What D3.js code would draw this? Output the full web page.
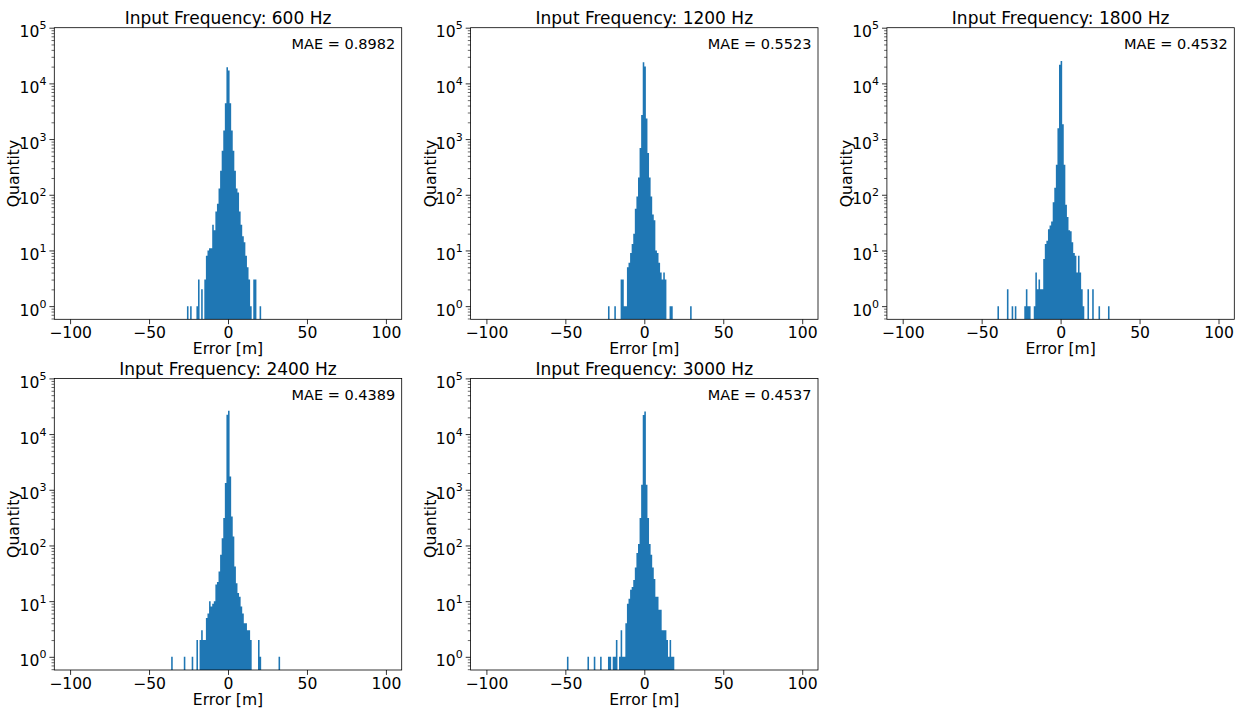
<!DOCTYPE html>
<html>
<head>
<meta charset="utf-8">
<script src="https://cdn.jsdelivr.net/npm/d3@7"></script>
<style>
  body { margin: 0; background: #fff; }
  svg { display: block; }
  text { font-family: "DejaVu Sans", sans-serif; fill: #000; }
</style>
</head>
<body>
<svg id="chart" width="1242" height="711"></svg>
<script>
// Error histograms (1 m bins) for each input frequency
const frequencies = [600, 1200, 1800, 2400, 3000];
const maeValues = ["0.8982", "0.5523", "0.4532", "0.4389", "0.4537"];

// bin left edge [m] and count per bin
const bins600 = [-26, -24, -20, -19, -17, -15, -14, -13, -12, -11, -10, -9, -8, -7, -6, -5, -4, -3, -2, -1, 0, 1, 2, 3, 4, 5, 6, 7, 8, 9, 10, 11, 12, 13, 14, 16, 17, 20];
const counts600 = [1, 1, 1, 3, 2, 3, 8, 10, 11, 11, 29, 23, 50, 69, 130, 270, 620, 1420, 4400, 19500, 17000, 4400, 1420, 620, 270, 130, 110, 50, 29, 18, 14, 8, 5, 3, 1, 3, 3, 1];

const bins1200 = [-23, -19, -15, -14, -13, -12, -11, -10, -9, -8, -7, -6, -5, -4, -3, -2, -1, 0, 1, 2, 3, 4, 5, 6, 7, 8, 9, 10, 11, 12, 13, 16, 17, 29];
const counts1200 = [1, 1, 3, 3, 1, 1, 5, 6, 9, 13, 20, 56, 93, 205, 690, 2700, 24000, 20000, 2350, 560, 205, 93, 44, 35, 10, 9, 6, 4, 3, 4, 3, 1, 1, 1];

const bins1800 = [-40, -34, -31, -29, -23, -22, -21, -20, -17, -16, -15, -14, -13, -12, -11, -10, -9, -8, -7, -6, -5, -4, -3, -2, -1, 0, 1, 2, 3, 4, 5, 6, 7, 8, 9, 10, 11, 12, 13, 14, 17, 20, 24, 30];
const counts1800 = [1, 2, 1, 1, 1, 2, 1, 1, 1, 4, 2, 3, 2, 2, 7, 13, 15, 24, 28, 33, 73, 134, 345, 1560, 21600, 25300, 1850, 345, 66, 40, 23, 22, 14, 9, 8, 4, 8, 4, 2, 1, 2, 2, 1, 1];

const bins2400 = [-36, -28, -23, -20, -18, -17, -16, -15, -14, -13, -12, -11, -10, -9, -8, -7, -6, -5, -4, -3, -2, -1, 0, 1, 2, 3, 4, 5, 6, 7, 8, 9, 10, 11, 12, 13, 14, 19, 20, 32];
const counts2400 = [1, 1, 1, 2, 2, 3, 2, 2, 5, 6, 10, 8, 9, 10, 20, 22, 34, 68, 135, 310, 1320, 22300, 26300, 1740, 330, 145, 42, 21, 14, 12, 8, 6, 4, 4, 3, 3, 2, 2, 1, 1];

const bins3000 = [-49, -36, -32, -28, -23, -22, -20, -19, -18, -16, -15, -14, -13, -12, -11, -10, -9, -8, -7, -6, -5, -4, -3, -2, -1, 0, 1, 2, 3, 4, 5, 6, 7, 8, 9, 10, 11, 12, 13, 14, 15, 16, 17, 18];
const counts3000 = [1, 1, 1, 1, 1, 1, 1, 1, 2, 1, 3, 1, 1, 4, 9, 11, 16, 18, 24, 40, 73, 106, 310, 1230, 22000, 25500, 1230, 310, 106, 68, 40, 25, 12, 12, 7, 7, 3, 3, 3, 2, 1, 2, 1, 1];

const binsList = [bins600, bins1200, bins1800, bins2400, bins3000];
const countsList = [counts600, counts1200, counts1800, counts2400, counts3000];

const xTicks = [-100, -50, 0, 50, 100];
const yTicks = [1, 10, 100, 1000, 10000, 100000];
const xDomain = [-110, 110];
const yDomain = [0.58, 100000];
const binWidth = 1;

const barColor = "#1f77b4";
const svg = d3.select("#chart");

const panelW = 347.4, panelH = 291.6;
const colX = [54.3, 470.6, 886.9];
const rowY = [27.7, 378.4];

const tickFont = 15.6, labelFont = 15.6, titleFont = 17, noteFont = 14.5;

const minorTicks = [];
for (let e = -1; e < 5; e++) {
  for (let m = 2; m <= 9; m++) {
    const v = m * Math.pow(10, e);
    if (v >= yDomain[0] && v <= yDomain[1]) minorTicks.push(v);
  }
}

frequencies.forEach((freq, i) => {
  const left = colX[i % 3];
  const top = rowY[Math.floor(i / 3)];
  const g = svg.append("g").attr("transform", `translate(${left},${top})`);

  const x = d3.scaleLinear().domain(xDomain).range([0, panelW]);
  const y = d3.scaleLog().domain(yDomain).range([panelH, 0]).clamp(true);

  // all bars of a panel go into one path so adjacent bins join without seams
  const p = d3.path();
  binsList[i].forEach((b, j) => {
    const x0 = x(b), x1 = x(b + binWidth), y0 = y(countsList[i][j]);
    p.rect(x0, y0, x1 - x0, panelH - y0);
  });
  g.append("path").attr("d", p.toString()).attr("fill", barColor);

  // x axis
  const xa = g.append("g").attr("transform", `translate(0,${panelH})`)
    .call(d3.axisBottom(x).tickValues(xTicks).tickSize(4.9).tickPadding(3).tickFormat(d3.format("d")));
  xa.select(".domain").remove();
  xa.selectAll("line").attr("stroke", "#000").attr("stroke-width", 0.8);
  xa.selectAll("text").attr("font-size", tickFont).attr("fill", "#000");

  // y axis minor ticks
  const ym = g.append("g")
    .call(d3.axisLeft(y).tickValues(minorTicks).tickSize(2.8).tickFormat(""));
  ym.select(".domain").remove();
  ym.selectAll("line").attr("stroke", "#000").attr("stroke-width", 0.6);

  // y axis major ticks with power labels
  const ya = g.append("g")
    .call(d3.axisLeft(y).tickValues(yTicks).tickSize(4.9).tickPadding(3).tickFormat(""));
  ya.select(".domain").remove();
  ya.selectAll("line").attr("stroke", "#000").attr("stroke-width", 0.8);
  ya.selectAll(".tick").each(function(d) {
    const t = d3.select(this).select("text")
      .attr("font-size", tickFont).attr("fill", "#000").attr("dy", "0.58em");
    t.text("10");
    t.append("tspan").attr("font-size", 11).attr("dy", "-0.72em")
      .text(String(Math.round(Math.log10(d))));
  });

  // frame
  g.append("rect").attr("x", 0).attr("y", 0).attr("width", panelW).attr("height", panelH)
    .attr("fill", "none").attr("stroke", "#000").attr("stroke-width", 0.8);

  // title
  g.append("text").attr("x", panelW / 2).attr("y", -3.5)
    .attr("text-anchor", "middle").attr("font-size", titleFont)
    .text(`Input Frequency: ${freq} Hz`);

  // MAE annotation
  g.append("text").attr("x", panelW - 6.5).attr("y", 21.5)
    .attr("text-anchor", "end").attr("font-size", noteFont)
    .text(`MAE = ${maeValues[i]}`);

  // axis labels
  g.append("text").attr("x", panelW / 2).attr("y", panelH + 35)
    .attr("text-anchor", "middle").attr("font-size", labelFont)
    .text("Error [m]");
  g.append("text").attr("transform", `translate(${-35},${panelH / 2}) rotate(-90)`)
    .attr("text-anchor", "middle").attr("font-size", labelFont)
    .text("Quantity");
});
</script>
</body>
</html>
